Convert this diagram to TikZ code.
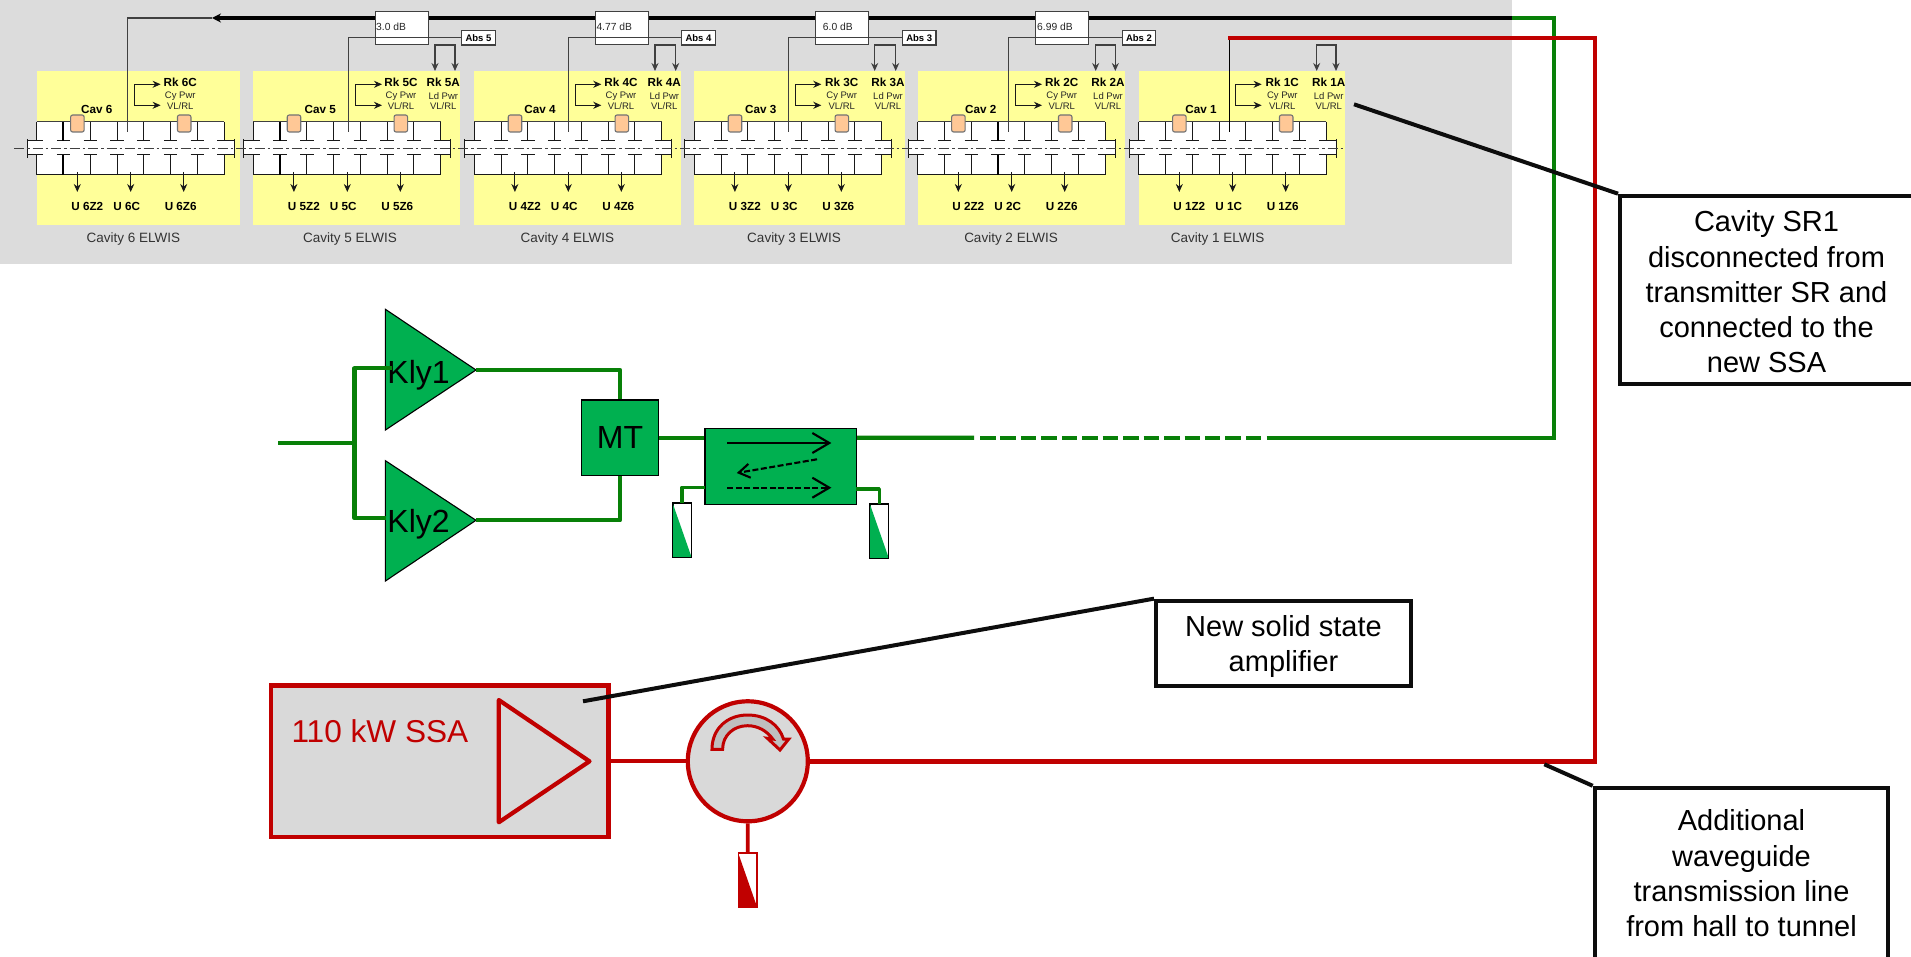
\documentclass[tikz,border=0pt]{standalone}
\usepackage{fontspec}
\setmainfont{Liberation Sans}
\usetikzlibrary{positioning,arrows.meta,calc}
\definecolor{hallgray}{HTML}{DCDCDC}
\definecolor{panelyel}{HTML}{FFFF99}
\definecolor{cplorange}{HTML}{FFC896}
\definecolor{wgreen}{HTML}{088008}
\definecolor{ampgreen}{HTML}{00B050}
\definecolor{wred}{HTML}{C00000}
\definecolor{ssagray}{HTML}{D9D9D9}
\definecolor{thinline}{HTML}{404040}

\begin{document}
\begin{tikzpicture}[x=1pt,y=-1pt,>={Stealth[length=8pt,width=7pt]},
  cavlab/.style={font=\fontsize{11.7}{14}\bfseries\selectfont,inner sep=0pt},
  sublab/.style={font=\fontsize{9.5}{11}\selectfont,text=black!85,inner sep=0pt},
  capt/.style={font=\fontsize{13.5}{16}\selectfont,text=black!80,inner sep=0pt},
  dbbox/.style={draw=thinline,fill=white,line width=1.1pt,minimum width=53pt,minimum height=33pt,inner sep=0pt},
  dbtxt/.style={font=\fontsize{10.3}{12}\selectfont,text=black!85,anchor=west,inner sep=0pt},
  absbox/.style={draw=thinline,fill=white,line width=1.1pt,minimum width=33.5pt,minimum height=14.3pt,inner sep=0pt,font=\fontsize{9.5}{11}\bfseries\selectfont},
  coupler/.style={draw=black!55,fill=cplorange,rounded corners=2pt,minimum width=13.5pt,minimum height=17pt,inner sep=0pt,line width=1.1pt},
  tap/.style={draw=thinline,line width=1.1pt},
  cell/.style={black!90,line width=1pt},
  wg/.style={wgreen,line width=4.3pt},
  rf/.style={wred,line width=4.5pt},
  amp/.style={draw=black,fill=ampgreen,line width=1.1pt},
  ampbox/.style={amp,inner sep=0pt,font=\fontsize{32}{36}\selectfont},
  ampname/.style={font=\fontsize{32}{36}\selectfont,inner sep=0pt},
  barb/.style={-{Straight Barb[length=17pt,width=20pt]},line width=2.1pt},
  loadbox/.style={fill=white,line width=1.1pt,minimum width=18pt,minimum height=53.5pt,inner sep=0pt},
  note/.style={draw=black!95,fill=white,line width=4pt,align=center,inner sep=0pt,font=\fontsize{29}{35.3}\selectfont},
  leader/.style={black!95,line width=4pt}]
\useasboundingbox (0,0) rectangle (1911,957);
% hall background and cavities
\fill[hallgray] (0,0) rectangle (1512,264);
\foreach \n/\bx/\pw/\cl/\br/\rc/\cv/\cp in {6/36.7/203.3/90.6/97.6/143.6/60/96.6,5/253.3/206.7/95/102.4/147.7/67/96.7,4/474.3/206.7/94/100.7/146.7/65.7/93,3/694.3/210.7/94.4/100.7/147.4/66.4/99.7,2/917.7/207.3/91/98/144/63/93.3,1/1138.7/206.3/90.6/96.6/143.6/62.3/79} {
  \fill[panelyel] (\bx,71) rectangle ({\bx+\pw},225);
  \fill[white] (\bx,122) rectangle ({\bx+187.4},175);
  \fill[white] ({\bx-9.4},141) rectangle ({\bx+197.4},155);
  \draw[cell,draw=thinline] (\bx,122) -- ({\bx+187.4},122);
  \draw[cell] (\bx,175) -- ({\bx+187.4},175);
  \foreach \w in {0,...,7} {
    \draw[cell] ({\bx+26.77*\w},122) -- ({\bx+26.77*\w},141) ({\bx+26.77*\w},155) -- ({\bx+26.77*\w},175);
    \draw[cell] ({\bx+26.77*\w-6.7},141) -- ({\bx+26.77*\w+6.7},141) ({\bx+26.77*\w-6.7},155) -- ({\bx+26.77*\w+6.7},155);
  }
  \draw[cell] ({\bx-9.4},141) -- (\bx,141) ({\bx-9.4},155) -- (\bx,155);
  \draw[cell] ({\bx+187.4},141) -- ({\bx+197.4},141) ({\bx+187.4},155) -- ({\bx+197.4},155);
  \draw[cell] ({\bx-9.4},139) -- ({\bx-9.4},158) ({\bx+197.4},139) -- ({\bx+197.4},158);
  \node[coupler] (cpa\n) at ({\bx+40.7},123.5) {};
  \node[coupler] (cpb\n) at ({\bx+147.5},123.5) {};
  \coordinate (tap\n) at ({\bx+\cl},132);
  \node[cavlab] (cav\n) at ({\bx+\cv},109.3) {Cav \n};
  \node[cavlab] (rkc\n) at ({\bx+\rc},82.3) {Rk \n C};
  \node[sublab] (cy\n) at ({\bx+\rc},95.7) {Cy Pwr};
  \node[sublab] (vlc\n) at ({\bx+\rc},106.3) {VL/RL};
  \coordinate (bra\n) at ({\bx+\br},84.3);
  \coordinate (brb\n) at ({\bx+\br},105.3);
  \coordinate (bre\n) at ({\bx+\br+26.3},84.3);
  \coordinate (brf\n) at ({\bx+\br+26.3},105.3);
  \draw[<->,cell] (bre\n) -- (bra\n) -- (brb\n) -- (brf\n);
  \foreach \m/\a/\t in {Z2/40.6/50.6,C/94/90,Z6/147/144} {
    \coordinate (ua\n\m) at ({\bx+\a},172);
    \coordinate (ub\n\m) at ({\bx+\a},192);
    \draw[->,cell] (ua\n\m) -- (ub\n\m);
    \node[cavlab] (u\n\m) at ({\bx+\t},206) {U \n\m};
  }
  \node[capt] (capt\n) at ({\bx+\cp},238.7) {Cavity \n{} ELWIS};
}
% heavier walls
\foreach \bx/\w in {36.7/1,253.3/1,917.7/3}
  \draw[black,line width=2pt] ({\bx+26.77*\w},122) -- ({\bx+26.77*\w},141) ({\bx+26.77*\w},155) -- ({\bx+26.77*\w},175);
% beam axis
\coordinate (beamL) at (14,148.7);
\coordinate (beamR) at (1345,148.7);
\draw[thinline,line width=0.8pt,dash pattern=on 10pt off 3pt on 2.5pt off 3pt] (beamL) -- (beamR);
% main line to cavity 6
\coordinate (hallend) at (1512,18);
\coordinate (mainend) at (212,18);
\draw[-{Stealth[length=9pt,width=9pt]},black,line width=3.2pt] (hallend) -- (mainend);
\draw[tap] (tap6) |- (mainend);
% attenuators, absorbers
\foreach \n/\dx/\dt/\tx/\sx in {5/401.7/3.0 dB/376/478.5,4/621.9/4.77 dB/596.3/698.5,3/842.2/6.0 dB/822.7/919.2,2/1062/6.99 dB/1037/1139} {
  \node[dbbox] (att\n) at (\dx,28.2) {};
  \node[dbtxt] (dbt\n) at (\tx,27) {\dt};
  \node[absbox] (abs\n) at (\sx,37.85) {Abs \n};
  \draw[tap] (tap\n) |- (abs\n.west);
}
\foreach \n/\ax/\ab/\rx in {5/435/455/443.3,4/655/675.7/664.3,3/874.7/895.7/888,2/1095.7/1115.3/1108,1/1316.7/1336/1328.7} {
  \coordinate (ra\n) at (\ax,71);
  \coordinate (rb\n) at (\ab,71);
  \coordinate (rc\n) at (\ax,45);
  \coordinate (rd\n) at (\ab,45);
  \draw[<->,tap] (ra\n) -- (rc\n) -- (rd\n) -- (rb\n);
  \node[cavlab] (rka\n) at (\rx,82.3) {Rk \n A};
  \node[sublab] (ldp\n) at (\rx,95.7) {Ld Pwr};
  \node[sublab] (vla\n) at (\rx,106.3) {VL/RL};
}
% klystrons
\foreach \n/\yt/\yb/\yc/\yl in {1/309.3/430/370/375.3,2/460.7/581/520.3/524.7} {
  \coordinate (klya\n) at (385.4,\yt);
  \coordinate (klyb\n) at (385.4,\yb);
  \coordinate (klyt\n) at (476,\yc);
  \draw[amp] (klya\n) -- (klyt\n) -- (klyb\n) -- cycle;
  \node[ampname] (klyn\n) at (418.6,\yl) {Kly\n};
}
\coordinate (feed) at (278,442.7);
\coordinate (fork) at (354.6,442.7);
\coordinate (kin1) at (391.7,368.3);
\coordinate (kin2) at (386,518.3);
\draw[wg] (feed) -- (fork);
\draw[wg,line join=round] (kin1) -| (fork) |- (kin2);
% magic tee and splitter
\node[ampbox,minimum width=76.3pt,minimum height=75.7pt] (mt) at (620,437.8) {MT\hspace{4pt}};
\node[ampbox,minimum width=151.4pt,minimum height=75.6pt] (split) at (780.7,466.5) {};
\draw[wg,line join=round] (klyt1) -| (mt.north);
\draw[wg,line join=round] (klyt2) -| (mt.south);
\draw[wg] (mt.east) -- (split.west |- mt.east);
\coordinate (bfa) at (727.4,443);
\coordinate (bfb) at (831.4,443);
\coordinate (bba) at (817,459.3);
\coordinate (bbb) at (736.8,473);
\coordinate (bda) at (727.4,487.7);
\coordinate (bdb) at (831.4,487.7);
\draw[barb] (bfa) -- (bfb);
\draw[-{Straight Barb[length=11pt,width=14pt]},line width=2.1pt,dash pattern=on 6pt off 2.5pt] (bba) -- (bbb);
\draw[barb,dash pattern=on 6pt off 2.5pt] (bda) -- (bdb);
% loads
\foreach \n/\lx/\ly/\lcol/\lfil in {a/682.1/530.2/black/ampgreen,b/879.3/531/black/ampgreen,c/747.7/880.2/wred/wred} {
  \node[loadbox,draw=\lcol] (load\n) at (\lx,\ly) {};
  \fill[\lfil] (load\n.north west) -- (load\n.south west) -- (load\n.south east) -- cycle;
  \draw[\lcol,line width=1.1pt] (load\n.north west) rectangle (load\n.south east);
}
\coordinate (stuba) at (705,487.3);
\coordinate (stubb) at (856.4,489);
\draw[wg,line width=3.6pt,line join=round] (stuba) -| (loada.north);
\draw[wg,line width=3.6pt,line join=round] (stubb) -| (loadb.north);
% line out to the cavities, broken in the middle
\coordinate (gsa) at (974,437.7);
\coordinate (gda) at (980,437.7);
\coordinate (gdb) at (1261.7,437.7);
\coordinate (gsb) at (1266.7,437.7);
\coordinate (gcorner) at (1554,437.7);
\coordinate (gtop) at (1554,18);
\draw[wg] (split.east |- mt.east) -- (gsa);
\draw[wg,dash pattern=on 15.5pt off 4.95pt] (gda) -- (gdb);
\draw[wg] (gsb) -- (gcorner) -- (gtop) -- (hallend);
% solid state amplifier
\node[draw=wred,fill=ssagray,line width=4.5pt,minimum width=337.5pt,minimum height=151.3pt,inner sep=0pt] (ssa) at (439.5,761.3) {};
\node[anchor=west,text=wred,inner sep=0pt,font=\fontsize{31.6}{36}\selectfont] (ssatxt) at (291.3,731.7) {110 kW SSA};
\coordinate (ssaa) at (498.8,700);
\coordinate (ssab) at (498.8,822.3);
\coordinate (ssat) at (589.5,761.3);
\draw[wred,line width=4.2pt,line join=round] (ssaa) -- (ssat) -- (ssab) -- cycle;
\node[circle,draw=wred,fill=ssagray,line width=4.2pt,minimum size=120pt,inner sep=0pt] (circ) at (747.8,761.3) {};
\draw[wred,line width=3pt,fill=black!25,line join=miter]
  (712,749.3) .. controls (712,728) and (728,715) .. (747.5,715)
  .. controls (766,715) and (779,725) .. (783.5,739) -- (788.8,739) -- (780,750) -- (767.4,738.3) -- (772.7,739)
  .. controls (767,731) and (758,725.7) .. (747.5,725.7)
  .. controls (734,725.7) and (722.6,735) .. (722.6,749.3) -- cycle;
\coordinate (redbot) at (1595,761.3);
\coordinate (redtop) at (1595,38);
\coordinate (redstart) at (1227.7,38);
\coordinate (tapred) at (1229.3,38);
\draw[tap,draw=black] (tap1) -- (tapred);
\draw[rf,line width=3.8pt] (ssa.east) -- (circ.west);
\draw[rf,line width=3.8pt] (circ.south) -- (loadc.north);
\draw[rf] (circ.east) -- (redbot) -- (redtop) -- (redstart);
% notes
\node[note,minimum width=293pt,minimum height=188.6pt] (noteA) at (1766.5,290) {\rule{0pt}{25pt}Cavity SR1\\disconnected from\\transmitter SR and\\connected to the\\new SSA};
\node[note,minimum width=255pt,minimum height=85.3pt] (noteB) at (1283.5,643.3) {\rule{0pt}{28pt}New solid state\\amplifier};
\node[note,minimum width=293.6pt,minimum height=171.4pt] (noteC) at (1741.5,873.5) {Additional\\waveguide\\transmission line\\from hall to tunnel};
\coordinate (leadA) at (1354,104.3);
\coordinate (leadB) at (583,701.3);
\coordinate (leadC) at (1544.3,764.3);
\draw[leader] (leadA) -- (noteA.north west);
\draw[leader] (leadB) -- (noteB.north west);
\draw[leader] (leadC) -- (noteC.north west);
\end{tikzpicture}
\end{document}
